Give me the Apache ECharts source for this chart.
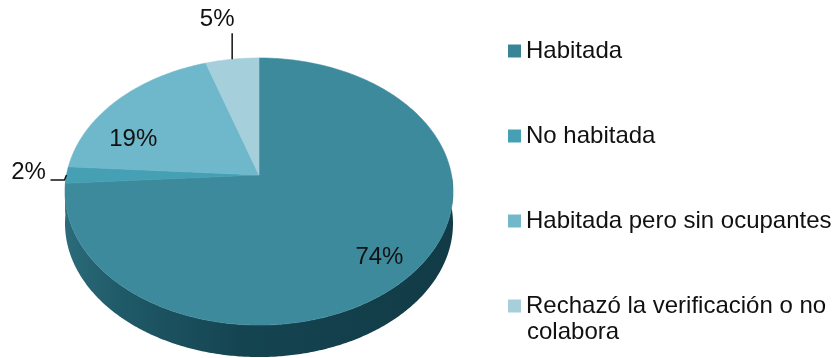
<!DOCTYPE html>
<html>
<head>
<meta charset="utf-8">
<script src="https://cdn.jsdelivr.net/npm/echarts@6/dist/echarts.min.js"></script>
<style>
  html, body { margin: 0; padding: 0; background: #ffffff; }
  #chart { width: 839px; height: 358px; }
</style>
</head>
<body>
<div id="chart"></div>
<script>
// Categories and their shares (percent)
const categories = [
  'Habitada',
  'No habitada',
  'Habitada pero sin ocupantes',
  'Rechazó la verificación o no colabora'
];
const shares = [74, 2, 19, 5];
const legendLines = ['Habitada', 'No habitada', 'Habitada pero sin ocupantes', 'Rechazó la verificación o no'];
const legendWrap = 'colabora';

// Colours: top faces and legend swatches
const topColors = ['#3d8a9c', '#45a0b3', '#6fb7ca', '#a4cfdb'];
const legendColors = ['#3a8497', '#45a0b4', '#72b8ca', '#a7cfda'];

// Tilted disc geometry (perspective projection of a flat circle)
const G = { cx: 259, cy: 175, a: 192.5, b: 131.5, e: 0.1237, depth: 32 };
const FONT_FAMILY = '"Liberation Sans", Arial, sans-serif';
const FONT = '24px ' + FONT_FAMILY;

function project(u, v) {
  const k = 1 + G.e * v;
  return [G.cx + G.a * u / k, G.cy - G.b * v / k];
}
function rim(theta, r) {
  r = r == null ? 1 : r;
  return project(r * Math.sin(theta), r * Math.cos(theta));
}
function arc(t1, t2) {
  const n = Math.max(2, Math.ceil((t2 - t1) / 0.01));
  const pts = [];
  for (let i = 0; i <= n; i++) pts.push(rim(t1 + (t2 - t1) * i / n));
  return pts;
}

// Label placement per slice: inside text anchors, or outside with a leader line
const labelPlacement = [
  { inside: true, r: 0.8, dx: 0, dy: 5 },
  { inside: false, leader: [[-2, 5], [-16, 5]], text: [-38, -3] },
  { inside: true, r: 0.8, dx: -11, dy: 25 },
  { inside: false, leader: [[0, -26]], text: [-15, -40] }
];

function sliceRenderer(idx) {
  return function (params, api) {
    const total = shares.reduce((s, v) => s + v, 0);
    const before = shares.slice(0, idx).reduce((s, v) => s + v, 0);
    const val = api.value(0);
    const t1 = before / total * 2 * Math.PI;
    const t2 = (before + val) / total * 2 * Math.PI;
    const children = [];

    // visible outer wall (front half of the disc)
    const s1 = Math.max(t1, Math.PI / 2), s2 = Math.min(t2, 3 * Math.PI / 2);
    if (s2 > s1) {
      const edge = arc(s1, s2);
      const pts = edge.concat(edge.slice().reverse().map(p => [p[0], p[1] + G.depth]));
      children.push({
        type: 'polygon', z2: 1,
        shape: { points: pts },
        style: {
          fill: {
            type: 'linear', x: 0, y: 0, x2: 1, y2: 0,
            colorStops: [
              { offset: 0, color: '#2b6b7a' },
              { offset: 0.15, color: '#1f5967' },
              { offset: 0.45, color: '#154451' },
              { offset: 1, color: '#113b46' }
            ]
          }
        }
      });
    }

    // top face
    const face = [[G.cx, G.cy]].concat(arc(t1, t2));
    children.push({
      type: 'polygon', z2: 10,
      shape: { points: face },
      style: { fill: topColors[idx], stroke: topColors[idx], lineWidth: 0.6 }
    });

    // value label
    const mid = (t1 + t2) / 2;
    const lp = labelPlacement[idx];
    const txt = val + '%';
    if (lp.inside) {
      const p = rim(mid, lp.r);
      children.push({
        type: 'text', z2: 20,
        style: { text: txt, x: p[0] + lp.dx, y: p[1] + lp.dy, fill: '#111', font: FONT, align: 'center', verticalAlign: 'middle' }
      });
    } else {
      const p = rim(mid);
      const line = [p].concat(lp.leader.map(d => [p[0] + d[0], p[1] + d[1]]));
      children.push({
        type: 'polyline', z2: 20,
        shape: { points: line },
        style: { stroke: '#111', lineWidth: 1.5, fill: null }
      });
      children.push({
        type: 'text', z2: 20,
        style: { text: txt, x: p[0] + lp.text[0], y: p[1] + lp.text[1], fill: '#111', font: FONT, align: 'center', verticalAlign: 'middle' }
      });
    }
    return { type: 'group', children: children };
  };
}

const chart = echarts.init(document.getElementById('chart'), null, { renderer: 'canvas' });
chart.setOption({
  animation: false,
  backgroundColor: '#ffffff',
  legend: {
    orient: 'vertical',
    left: 508,
    top: 38,
    padding: 0,
    itemWidth: 13,
    itemHeight: 13,
    itemGap: 59,
    icon: 'rect',
    selectedMode: false,
    data: categories,
    formatter: name => legendLines[categories.indexOf(name)],
    textStyle: { fontSize: 24, lineHeight: 26, color: '#111', fontFamily: FONT_FAMILY }
  },
  graphic: [{
    type: 'text', left: 527, top: 320,
    style: { text: legendWrap, fill: '#111', font: FONT }
  }],
  series: categories.map((name, i) => ({
    type: 'custom',
    name: name,
    coordinateSystem: 'none',
    itemStyle: { color: legendColors[i] },
    renderItem: sliceRenderer(i),
    data: [shares[i]]
  }))
});
</script>
</body>
</html>
